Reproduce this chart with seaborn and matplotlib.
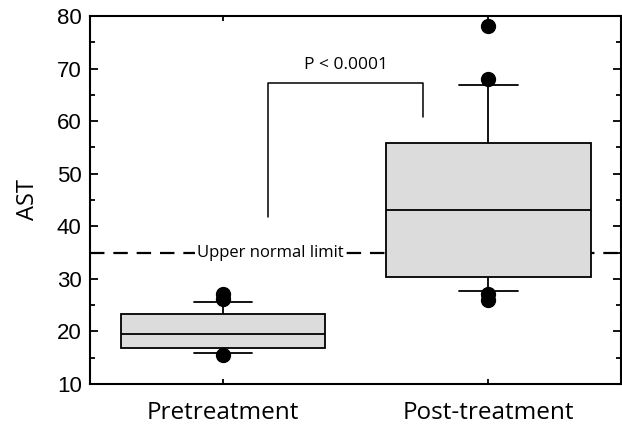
"""
AST before and after treatment: box plot with whiskers at percentiles,
outliers as dots, an upper-normal-limit line and a P-value bracket.
"""

import pandas as pd
import matplotlib.pyplot as plt
import seaborn as sns

# =========================
# Data
# =========================
GROUPS = ["Pretreatment", "Post-treatment"]

pre_ast = [15.6, 15.8, 16.0, 16.3, 16.6, 16.8, 17.3, 17.8, 18.4, 19.0, 19.5,
           20.2, 21.0, 21.8, 22.6, 23.4, 24.2, 24.9, 25.6, 26.1, 27.2]
post_ast = [25.9, 27.2, 27.7, 28.8, 29.5, 30.0, 30.4, 32.0, 34.5, 37.0, 39.5,
            41.5, 43.1, 45.0, 47.5, 50.0, 52.5, 54.5, 55.9, 58.0, 60.5, 63.5,
            66.9, 68.1, 78.1]

UPPER_NORMAL = 35
P_TEXT = "P < 0.0001"

# =========================
# Config
# =========================
BOX_FILL = "#dcdcdc"
TEXT_FONT = ["Open Sans", "DejaVu Sans"]
NUM_FONT = ["Liberation Sans", "DejaVu Sans"]

sns.set_style("white")
plt.rcParams["font.family"] = TEXT_FONT
for key in ["text.color", "axes.labelcolor", "xtick.color", "ytick.color"]:
    plt.rcParams[key] = "black"

df = pd.DataFrame({
    "group": [GROUPS[0]] * len(pre_ast) + [GROUPS[1]] * len(post_ast),
    "AST": pre_ast + post_ast,
})

fig = plt.figure(figsize=(6.22, 4.25), dpi=100)
ax = fig.add_axes([0.1447, 0.0965, 0.854, 0.866])

sns.boxplot(
    data=df, x="group", y="AST", order=GROUPS, ax=ax,
    width=0.77, whis=(4.5, 92), color=BOX_FILL, linecolor="black",
    linewidth=1.3, capwidths=0.22,
    flierprops=dict(marker="o", markerfacecolor="black",
                    markeredgecolor="black", markersize=10),
)

# upper normal limit
ax.axhline(UPPER_NORMAL, color="black", lw=1.6, ls=(0, (6.5, 4)), zorder=1)
ax.text(0.18, UPPER_NORMAL, "Upper normal limit", ha="center", va="center",
        fontsize=12, zorder=3,
        bbox=dict(facecolor="white", edgecolor="none", pad=1.5))

# significance bracket
ax.plot([0.17, 0.17, 0.755, 0.755], [41.7, 67.2, 67.2, 60.7],
        color="black", lw=1.1)
ax.text(0.465, 70.6, P_TEXT, ha="center", va="center", fontsize=12.5)

# =========================
# Axes styling
# =========================
ax.set_xlim(-0.5, 1.5)
ax.set_ylim(10, 80)
ax.set_yticks(range(10, 81, 10))
ax.set_yticks(range(15, 80, 10), minor=True)
ax.set_xlabel("")
ax.set_ylabel("AST", fontsize=17, labelpad=12)

for side in ["left", "top", "bottom", "right"]:
    ax.spines[side].set_visible(True)
    ax.spines[side].set_linewidth(1.5)
    ax.spines[side].set_color("black")

ax.tick_params(axis="y", which="major", direction="in", length=6, width=1.3,
               left=True, right=True, pad=6, labelsize=16)
ax.tick_params(axis="y", which="minor", direction="in", length=3.5, width=1.3,
               left=True, right=True)
ax.tick_params(axis="x", direction="in", length=3.5, width=1.3,
               bottom=True, top=True, pad=12, labelsize=17.5)
for lab in ax.get_yticklabels():
    lab.set_family(NUM_FONT)

fig.savefig("out.png", dpi=100)
